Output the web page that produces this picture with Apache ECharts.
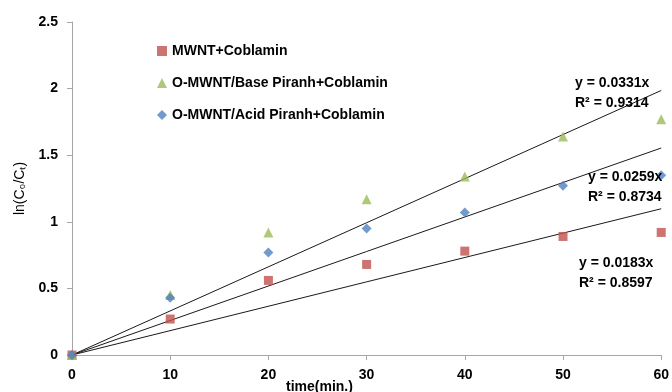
<!DOCTYPE html>
<html>
<head>
<meta charset="utf-8">
<script src="https://cdn.jsdelivr.net/npm/echarts@6/dist/echarts.min.js"></script>
<style>
  html, body { margin: 0; padding: 0; background: #fff; }
  #chart { width: 672px; height: 392px; }
</style>
</head>
<body>
<div id="chart"></div>
<script>
// time (min.)
var times = [0, 10, 20, 30, 40, 50, 60];

var mwnt = [0, 0.27, 0.56, 0.68, 0.78, 0.89, 0.92];
var baseP = [0, 0.45, 0.92, 1.17, 1.34, 1.64, 1.77];
var acidP = [0, 0.43, 0.77, 0.95, 1.07, 1.27, 1.35];

var names = ['MWNT+Coblamin', 'O-MWNT/Base Piranh+Coblamin', 'O-MWNT/Acid Piranh+Coblamin'];
var slopes = [0.0183, 0.0331, 0.0259];
var r2 = ['0.8597', '0.9314', '0.8734'];

var myChart = echarts.init(document.getElementById('chart'));
var font = 'Liberation Sans';

function pairs(ys) {
    var res = [];
    for (var i = 0; i < times.length; i++) {
        res.push([times[i], ys[i]]);
    }
    return res;
}

function trend(k) {
    var x0 = times[0], x1 = times[times.length - 1];
    return [[x0, k * x0], [x1, k * x1]];
}

var colors = ['#C0504D', '#9BBB59', '#4F81BD'];
var symbols = ['rect', 'triangle', 'diamond'];
var sizes = [9, 10, 10];
var sets = [mwnt, baseP, acidP];

var series = [];
for (var i = 0; i < 3; i++) {
    series.push({
        name: 'fit' + i,
        type: 'line',
        data: trend(slopes[i]),
        symbol: 'none',
        lineStyle: { color: '#1a1a1a', width: 1 },
        silent: true,
        z: 1
    });
}
for (var j = 0; j < 3; j++) {
    series.push({
        name: names[j],
        type: 'scatter',
        data: pairs(sets[j]),
        symbol: symbols[j],
        symbolSize: sizes[j],
        itemStyle: { color: colors[j] },
        clip: false,
        z: 3
    });
}

// equation labels (trendline fits)
var eqPos = [[579, 262], [588, 176], [575, 82]];
var eqIdx = [0, 2, 1];
var graphics = [];
for (var m = 0; m < 3; m++) {
    var s = eqIdx[m];
    graphics.push({
        type: 'text',
        left: eqPos[m][0],
        top: eqPos[m][1] - 9,
        style: {
            text: 'y = ' + slopes[s] + 'x\nR² = ' + r2[s],
            font: 'bold 14px ' + font,
            fill: '#000',
            lineHeight: 20
        },
        z: 10
    });
}
graphics.push({
    type: 'text',
    left: 286,
    top: 380,
    style: { text: 'time(min.)', font: 'bold 14px ' + font, fill: '#000' }
});

var option = {
    animation: false,
    grid: { left: 72, right: 9, top: 22, bottom: 37 },
    legend: {
        data: names,
        orient: 'vertical',
        left: 152,
        top: 39,
        itemGap: 18,
        itemWidth: 10,
        itemHeight: 10,
        textStyle: { fontFamily: font, fontWeight: 'bold', fontSize: 14, color: '#000' }
    },
    xAxis: {
        type: 'value',
        min: 0,
        max: 60,
        interval: 10,
        splitLine: { show: false },
        axisLine: { lineStyle: { color: '#a6a6a6' } },
        axisTick: { show: true, length: 5, lineStyle: { color: '#a6a6a6' } },
        axisLabel: { fontFamily: font, fontWeight: 'bold', fontSize: 14, color: '#000', margin: 13 }
    },
    yAxis: {
        type: 'value',
        min: 0,
        max: 2.5,
        interval: 0.5,
        name: 'ln(C₀/Cₜ)',
        nameLocation: 'middle',
        nameGap: 41,
        nameTextStyle: { fontFamily: font, fontSize: 14, color: '#000' },
        splitLine: { show: false },
        axisLine: { show: true, lineStyle: { color: '#a6a6a6' } },
        axisTick: { show: true, length: 5, lineStyle: { color: '#a6a6a6' } },
        axisLabel: { fontFamily: font, fontWeight: 'bold', fontSize: 14, color: '#000', margin: 14 }
    },
    graphic: graphics,
    series: series
};

myChart.setOption(option);
window.addEventListener('resize', function () {
    myChart.resize();
});
</script>
</body>
</html>
